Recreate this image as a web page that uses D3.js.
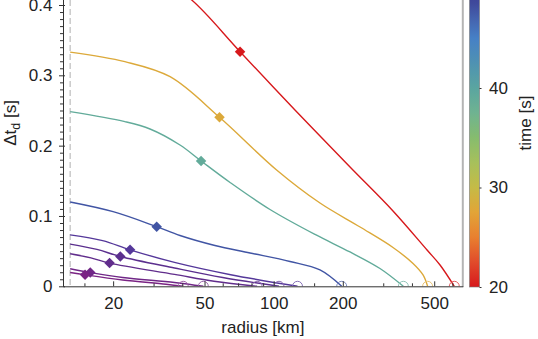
<!DOCTYPE html>
<html>
<head>
<meta charset="utf-8">
<script src="https://cdn.jsdelivr.net/npm/d3@7"></script>
<style>
body { margin: 0; background: #fff; }
svg { display: block; font-family: "Liberation Sans", Arial, sans-serif; }
</style>
</head>
<body>
<svg id="chart"></svg>
<script>
// curves (radius in km, delay in s)
const times = [20, 28, 39, 47.8, 52, 55, 56, 58.5, 60];
const radii = [
  [13, 20, 30, 44, 71.4, 123.8, 215, 330.8, 465.4, 530.1, 611.5],
  [13, 22.5, 35.4, 58.1, 103, 159.1, 237.8, 330.8, 404.4, 447, 468],
  [13, 22.5, 28.95, 39.1, 48.3, 64.6, 96.4, 151.4, 215, 290.4, 366.9],
  [13, 20, 30.95, 39.1, 55.5, 78.9, 117.8, 159.1, 197.8],
  [13, 18, 23.7, 37, 65, 127],
  [13, 17, 21.5, 37, 60, 105.5],
  [13, 16, 19.3, 37, 55, 84.7],
  [13, 15.9, 22, 37, 49.4],
  [13, 15.1, 22, 34, 40.4]
];
const delays = [
  [0.46, 0.457, 0.445, 0.407, 0.3336, 0.2507, 0.1696, 0.1071, 0.0516, 0.0303, 0],
  [0.333, 0.3194, 0.298, 0.2403, 0.1654, 0.1184, 0.0843, 0.0552, 0.0324, 0.0161, 0],
  [0.2483, 0.2341, 0.2237, 0.2009, 0.1782, 0.1476, 0.1092, 0.0737, 0.0488, 0.0253, 0],
  [0.1199, 0.1061, 0.0848, 0.0722, 0.058, 0.0474, 0.0353, 0.0232, 0],
  [0.0732, 0.065, 0.0519, 0.034, 0.0165, 0],
  [0.060, 0.0525, 0.0424, 0.026, 0.0125, 0],
  [0.0462, 0.0405, 0.033, 0.017, 0.0072, 0],
  [0.0249, 0.0196, 0.0125, 0.0055, 0],
  [0.0196, 0.0163, 0.009, 0.003, 0]
];
// diamond markers
const markRadius = [71.4, 58.1, 48.3, 30.95, 23.7, 21.5, 19.3, 15.9, 15.1];
const markDelay = [0.3336, 0.2403, 0.1782, 0.0848, 0.0519, 0.0424, 0.033, 0.0196, 0.0163];
const startRadius = 13;

const xMajor = [20, 50, 100, 200, 500];
const xMinor = [15, 30, 40, 60, 70, 80, 90, 150, 300, 400, 600];
const yMajor = [0, 0.1, 0.2, 0.3, 0.4];
const cbarTicks = [20, 30, 40];

const colorStops = [20, 22.5, 25, 27.5, 30, 32.5, 35, 37.5, 40, 42.5, 45, 47, 48.5, 50, 52, 55, 57, 60];
const colorList = ['#d7191c', '#e14b2b', '#e8802f', '#e2a437', '#c5bb46', '#a7c05b', '#86bc6e', '#6fb391',
                   '#5aa5a0', '#4f92b2', '#4680c6', '#4462ae', '#3f4a9c', '#3d3c92', '#55389a', '#5b2f8e',
                   '#662a8a', '#7a2384'];

class DelayChart {
    constructor (config) {
        this.config = {
            parent: config.parent,
            width: config.width || 538,
            height: config.height || 339,
            margin: config.margin || {top:5, right:75.2, bottom:52.7, left:63},
            xlabel: config.xlabel || '',
            clabel: config.clabel || ''
        };
        this.init();
    }

    init() {
        let self = this;

        self.svg = d3.select(self.config.parent)
            .attr('width', self.config.width)
            .attr('height', self.config.height);

        self.chart = self.svg.append('g')
            .attr('transform', `translate(${self.config.margin.left}, ${self.config.margin.top})`);

        self.inner_width = self.config.width - self.config.margin.left - self.config.margin.right;
        self.inner_height = self.config.height - self.config.margin.top - self.config.margin.bottom;

        self.xscale = d3.scaleLog()
            .domain([12.1, 666])
            .range([0, self.inner_width]);

        self.yscale = d3.scaleLinear()
            .domain([0, 0.4])
            .range([self.inner_height, 0]);

        self.color = d3.scaleLinear()
            .domain(colorStops)
            .range(colorList)
            .interpolate(d3.interpolateRgb);

        // colorbar scale in svg coords
        self.cscale = d3.scaleLinear()
            .domain([20, 50])
            .range([287, -11.5]);

        self.chart.append('defs').append('clipPath')
            .attr('id', 'clip')
            .append('rect')
            .attr('x', -2)
            .attr('y', -self.config.margin.top)
            .attr('width', self.inner_width + 2)
            .attr('height', self.inner_height + self.config.margin.top);
    }

    update() {
        let self = this;
        self.curves = times.map((t, i) => ({
            t: t,
            points: radii[i].map((r, j) => ({r: r, v: delays[i][j]})),
            mark: {r: markRadius[i], v: markDelay[i]},
            end: radii[i][radii[i].length - 1]
        }));
        self.render();
    }

    render() {
        let self = this;
        const fs = 17;

        // dashed start line
        self.chart.append('line')
            .attr('x1', self.xscale(startRadius))
            .attr('x2', self.xscale(startRadius))
            .attr('y1', -self.config.margin.top)
            .attr('y2', self.inner_height)
            .attr('stroke', '#bdbdbd')
            .attr('stroke-width', 1.2)
            .attr('stroke-dasharray', '6,3');

        // right frame
        self.chart.append('line')
            .attr('x1', self.inner_width)
            .attr('x2', self.inner_width)
            .attr('y1', -self.config.margin.top)
            .attr('y2', self.inner_height + 0.7)
            .attr('stroke', '#b4b4b4')
            .attr('stroke-width', 2);

        const plot = self.chart.append('g')
            .attr('clip-path', 'url(#clip)');

        const line = d3.line()
            .x(d => self.xscale(d.r))
            .y(d => self.yscale(d.v))
            .curve(d3.curveCatmullRom.alpha(0.5));

        plot.selectAll('path.curve')
            .data(self.curves)
            .join('path')
            .attr('class', 'curve')
            .attr('d', d => line(d.points))
            .attr('fill', 'none')
            .attr('stroke', d => self.color(d.t))
            .attr('stroke-width', 1.4);

        plot.selectAll('circle.end')
            .data(self.curves)
            .join('circle')
            .attr('class', 'end')
            .attr('cx', d => self.xscale(d.end))
            .attr('cy', self.yscale(0))
            .attr('r', 5)
            .attr('fill', 'none')
            .attr('stroke', d => d3.interpolateRgb(self.color(d.t), '#fff')(0.3))
            .attr('stroke-width', 1);

        plot.selectAll('path.mark')
            .data(self.curves)
            .join('path')
            .attr('class', 'mark')
            .attr('d', d3.symbol(d3.symbolSquare, 55))
            .attr('transform', d => `translate(${self.xscale(d.mark.r)}, ${self.yscale(d.mark.v)}) rotate(45)`)
            .attr('fill', d => self.color(d.t));

        // axes
        const xaxis_major = d3.axisBottom(self.xscale)
            .tickValues(xMajor)
            .tickSize(-5)
            .tickSizeOuter(0)
            .tickPadding(10.5)
            .tickFormat(d3.format('d'));
        const xaxis_minor = d3.axisBottom(self.xscale)
            .tickValues(xMinor)
            .tickSize(-3)
            .tickFormat('');

        const xg = self.chart.append('g')
            .attr('transform', `translate(0, ${self.inner_height})`)
            .call(xaxis_major);
        self.chart.append('g')
            .attr('transform', `translate(0, ${self.inner_height})`)
            .call(xaxis_minor)
            .select('.domain').remove();

        const yMinor = d3.range(1, 41).map(i => i / 100).filter(d => Math.round(d * 100) % 10 !== 0);
        const yaxis_major = d3.axisLeft(self.yscale)
            .tickValues(yMajor)
            .tickSize(4)
            .tickPadding(6.5)
            .tickFormat(d => d === 0 ? '0' : d3.format('.1f')(d));
        const yaxis_minor = d3.axisLeft(self.yscale)
            .tickValues(yMinor)
            .tickSize(3)
            .tickFormat('');

        const yg = self.chart.append('g').call(yaxis_major);
        yg.select('.domain').remove();
        yg.selectAll('.tick line').attr('x1', 2);
        self.chart.append('g').call(yaxis_minor).select('.domain').remove();

        self.chart.append('line')
            .attr('x1', 0.5).attr('x2', 0.5)
            .attr('y1', -self.config.margin.top)
            .attr('y2', self.inner_height + 0.5)
            .attr('stroke', '#333');

        self.chart.selectAll('.tick line').attr('stroke', '#333');
        xg.select('.domain').attr('stroke', '#333');
        self.chart.selectAll('.tick text')
            .attr('fill', '#222')
            .attr('font-size', fs)
            .attr('font-family', '"Liberation Sans", Arial, sans-serif');

        // axis labels
        self.svg.append('text')
            .attr('x', self.config.margin.left + self.inner_width / 2)
            .attr('y', 333)
            .attr('text-anchor', 'middle')
            .attr('font-size', fs)
            .attr('fill', '#222')
            .text(self.config.xlabel);

        const ylab = self.svg.append('text')
            .attr('transform', 'translate(16, 123) rotate(-90)')
            .attr('text-anchor', 'middle')
            .attr('font-size', fs)
            .attr('fill', '#222');
        ylab.append('tspan').text('\u0394t');
        ylab.append('tspan').attr('font-size', 12.5).attr('dy', 4).text('d');
        ylab.append('tspan').attr('dy', -4).text('\u00a0[s]');

        // colorbar
        const grad = self.svg.append('defs').append('linearGradient')
            .attr('id', 'cbar')
            .attr('x1', 0).attr('y1', 1)
            .attr('x2', 0).attr('y2', 0);
        grad.selectAll('stop')
            .data(d3.range(20, 50.5, 0.5))
            .join('stop')
            .attr('offset', d => (d - 20) / 30)
            .attr('stop-color', d => self.color(d));

        const cb = self.svg.append('g')
            .attr('transform', 'translate(469.5, 0)');
        cb.append('rect')
            .attr('x', 0)
            .attr('y', self.cscale(50))
            .attr('width', 10)
            .attr('height', self.cscale(20) - self.cscale(50))
            .attr('fill', 'url(#cbar)')
            .attr('stroke', '#777')
            .attr('stroke-width', 0.6);

        const caxis = d3.axisRight(self.cscale)
            .tickValues(cbarTicks)
            .tickSize(2)
            .tickPadding(7.5)
            .tickFormat(d3.format('d'));
        const cg = cb.append('g')
            .attr('transform', 'translate(10, 0)')
            .call(caxis);
        cg.select('.domain').remove();
        cg.selectAll('.tick line').attr('stroke', '#333');
        cg.selectAll('.tick text')
            .attr('fill', '#222')
            .attr('font-size', fs)
            .attr('font-family', '"Liberation Sans", Arial, sans-serif');

        self.svg.append('text')
            .attr('transform', 'translate(531, 123) rotate(-90)')
            .attr('text-anchor', 'middle')
            .attr('font-size', fs)
            .attr('fill', '#222')
            .text(self.config.clabel);
    }
}

const chart = new DelayChart({
    parent: '#chart',
    width: 538,
    height: 339,
    xlabel: 'radius [km]',
    clabel: 'time [s]'
});
chart.update();
</script>
</body>
</html>
